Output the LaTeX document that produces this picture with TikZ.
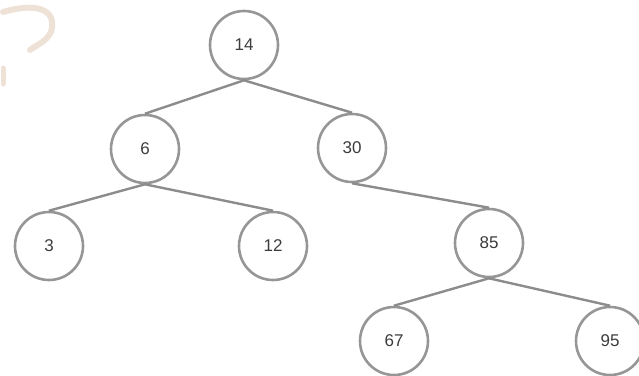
\documentclass[tikz,border=0pt]{standalone}
\usepackage{fontspec}
\setmainfont{Liberation Sans}
\definecolor{ringgray}{RGB}{150,150,150}
\definecolor{edgegray}{RGB}{140,140,140}
\definecolor{txtgray}{RGB}{60,60,60}
\definecolor{peach}{RGB}{238,226,214}
\begin{document}
\begin{tikzpicture}[x=1pt,y=-1pt,
  keynode/.style={circle,draw=ringgray,line width=2.6pt,minimum size=68pt,inner sep=0pt,
    font=\fontsize{17}{17}\selectfont,text=txtgray},
  treeedge/.style={draw=edgegray,line width=2.4pt}]
\useasboundingbox (0,0) rectangle (639,375);
% faint watermark fragment
\draw[peach,line width=6pt,line cap=round] (3,12) .. controls (30,4) and (55,6) .. (52,28) .. controls (50,40) and (38,44) .. (30,50);
\draw[peach,line width=5pt,line cap=round] (3,68) -- (3,84);
\node[keynode] (n14) at (244,45) {14};
\node[keynode] (n6) at (145,149) {6};
\node[keynode] (n30) at (352,148) {30};
\node[keynode] (n3) at (49,246) {3};
\node[keynode] (n12) at (273,246) {12};
\node[keynode] (n85) at (489,243) {85};
\node[keynode] (n67) at (394,341) {67};
\node[keynode] (n95) at (610,341) {95};
\draw[treeedge] (n14.south) -- (n6.north);
\draw[treeedge] (n14.south) -- (n30.north);
\draw[treeedge] (n6.south) -- (n3.north);
\draw[treeedge] (n6.south) -- (n12.north);
\draw[treeedge] (n30.south) -- (n85.north);
\draw[treeedge] (n85.south) -- (n67.north);
\draw[treeedge] (n85.south) -- (n95.north);
\end{tikzpicture}
\end{document}
